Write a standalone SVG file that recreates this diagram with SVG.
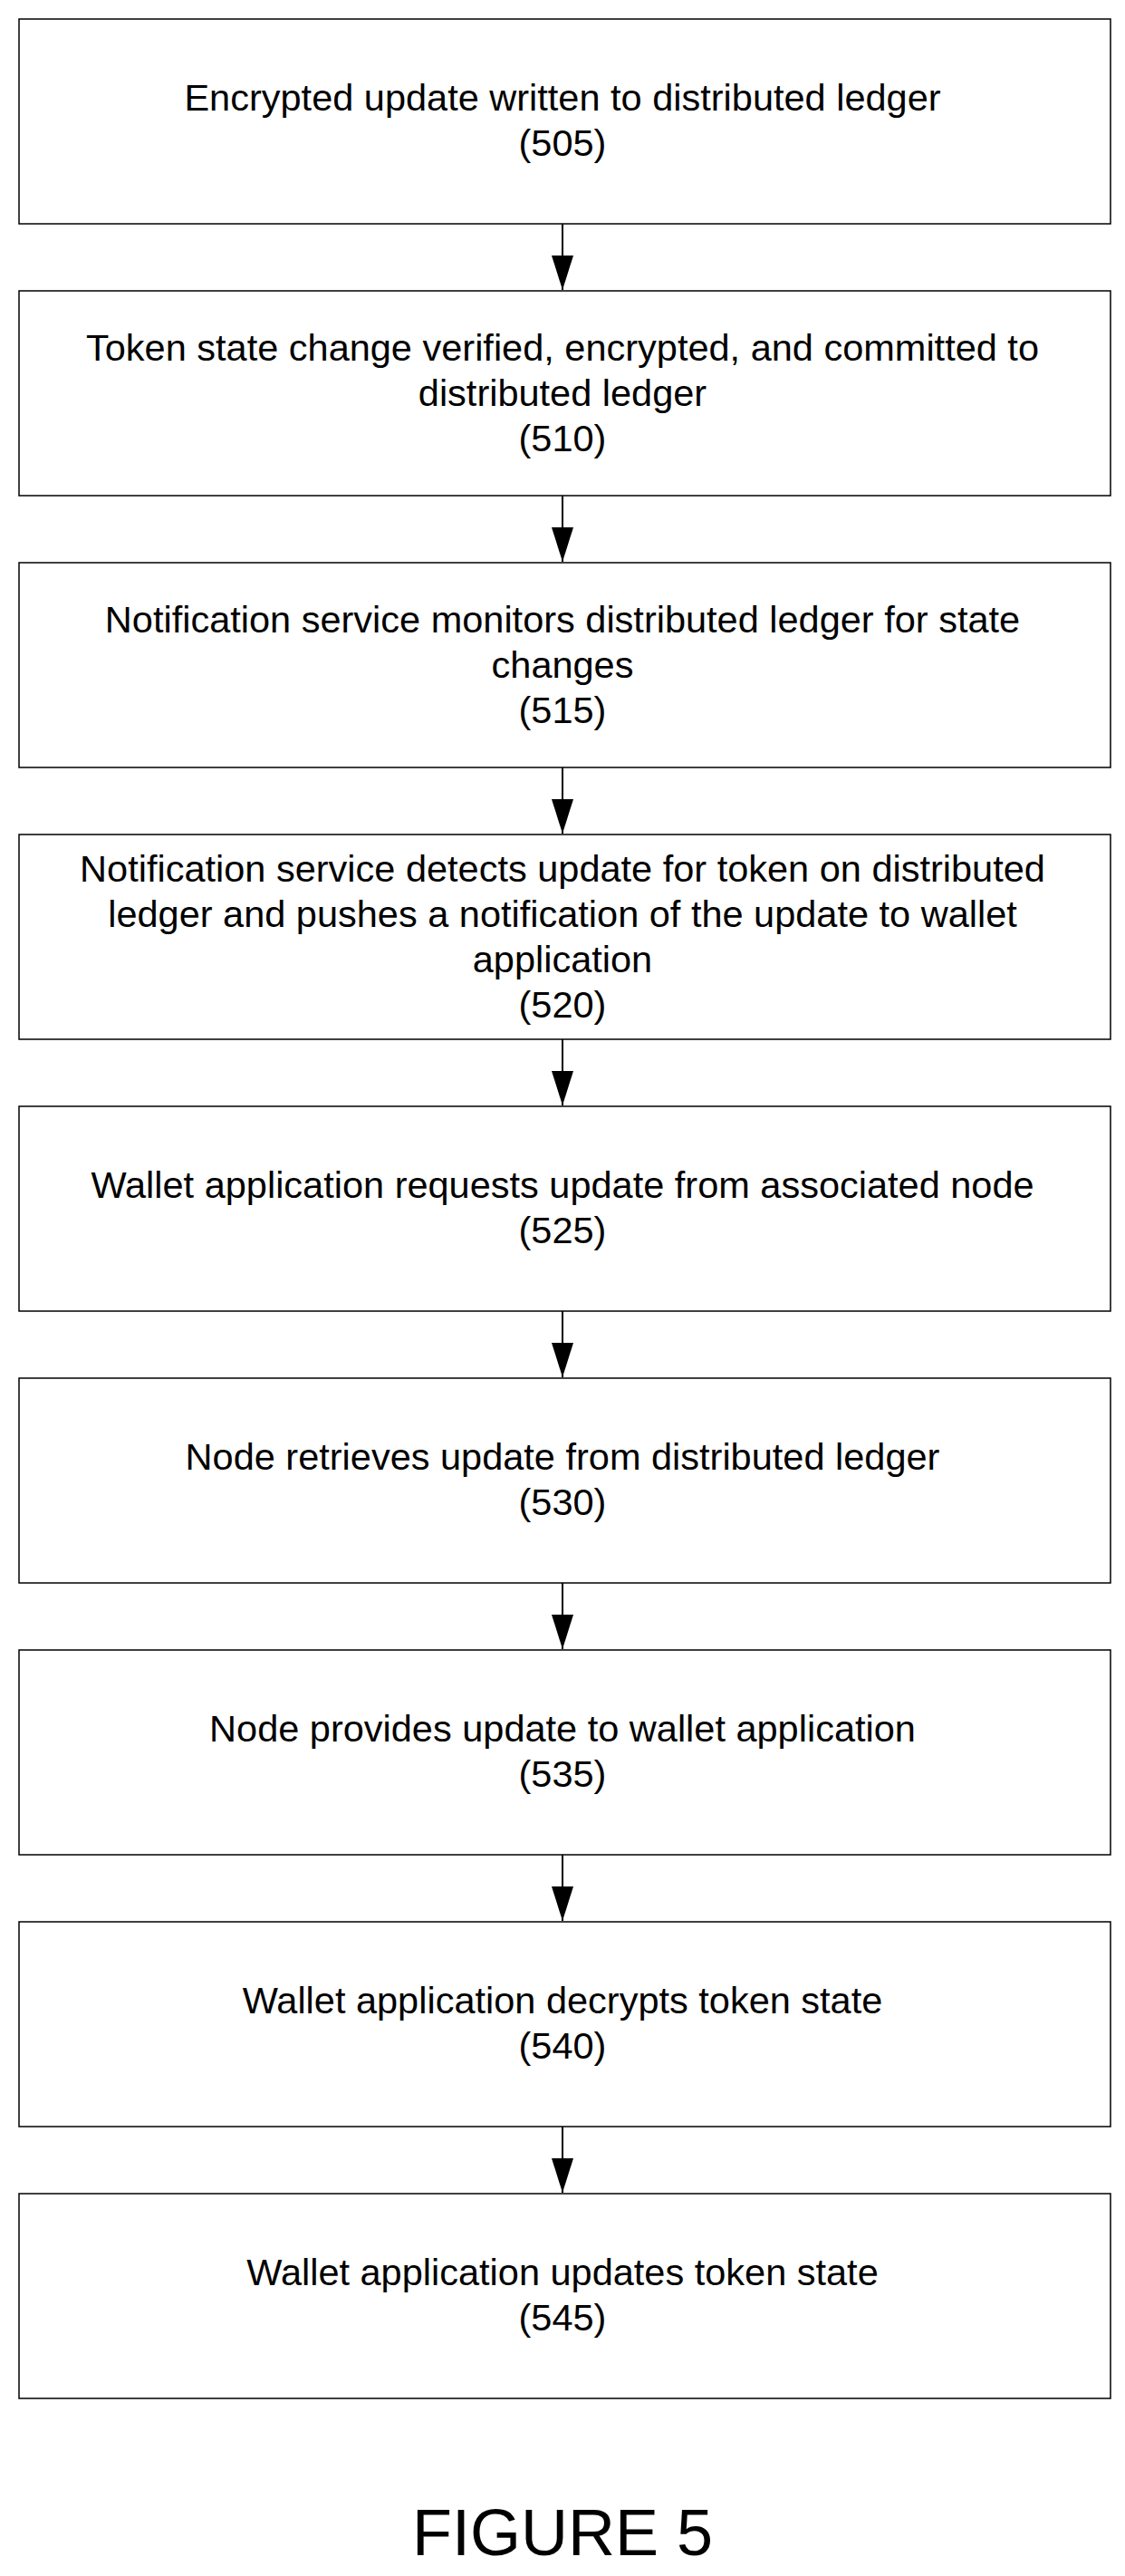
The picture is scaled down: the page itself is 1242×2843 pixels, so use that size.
<svg xmlns="http://www.w3.org/2000/svg" width="1242" height="2843" viewBox="0 0 1242 2843">
<style>
rect{fill:#fff;stroke:#000;stroke-width:1.5}
text{font-family:"Liberation Sans",Arial,sans-serif;font-size:41.5px;text-anchor:middle;fill:#000}
.c{stroke:#000;stroke-width:2;fill:none}
</style>
<defs><marker id="b" markerWidth="38" markerHeight="24" refX="38" refY="12" orient="auto" markerUnits="userSpaceOnUse"><path d="M0,0 L38,12 L0,24 Z" fill="#000"/></marker></defs>
<rect width="1242" height="2843" style="stroke:none"/>
<g id="connectors">
<line class="c" x1="621" y1="247" x2="621" y2="320" marker-end="url(#b)"/>
<line class="c" x1="621" y1="547" x2="621" y2="620" marker-end="url(#b)"/>
<line class="c" x1="621" y1="847" x2="621" y2="920" marker-end="url(#b)"/>
<line class="c" x1="621" y1="1147" x2="621" y2="1220" marker-end="url(#b)"/>
<line class="c" x1="621" y1="1447" x2="621" y2="1520" marker-end="url(#b)"/>
<line class="c" x1="621" y1="1747" x2="621" y2="1820" marker-end="url(#b)"/>
<line class="c" x1="621" y1="2047" x2="621" y2="2120" marker-end="url(#b)"/>
<line class="c" x1="621" y1="2347" x2="621" y2="2420" marker-end="url(#b)"/>
</g>
<g id="n505"><rect x="21" y="21" width="1205" height="226"/><text x="621" y="122">Encrypted update written to distributed ledger</text><text x="621" y="172">(505)</text></g>
<g id="n510"><rect x="21" y="321" width="1205" height="226"/><text x="621" y="398">Token state change verified, encrypted, and committed to</text><text x="621" y="448">distributed ledger</text><text x="621" y="498">(510)</text></g>
<g id="n515"><rect x="21" y="621" width="1205" height="226"/><text x="621" y="698">Notification service monitors distributed ledger for state</text><text x="621" y="748">changes</text><text x="621" y="798">(515)</text></g>
<g id="n520"><rect x="21" y="921" width="1205" height="226"/><text x="621" y="973">Notification service detects update for token on distributed</text><text x="621" y="1023">ledger and pushes a notification of the update to wallet</text><text x="621" y="1073">application</text><text x="621" y="1123">(520)</text></g>
<g id="n525"><rect x="21" y="1221" width="1205" height="226"/><text x="621" y="1322">Wallet application requests update from associated node</text><text x="621" y="1372">(525)</text></g>
<g id="n530"><rect x="21" y="1521" width="1205" height="226"/><text x="621" y="1622">Node retrieves update from distributed ledger</text><text x="621" y="1672">(530)</text></g>
<g id="n535"><rect x="21" y="1821" width="1205" height="226"/><text x="621" y="1922">Node provides update to wallet application</text><text x="621" y="1972">(535)</text></g>
<g id="n540"><rect x="21" y="2121" width="1205" height="226"/><text x="621" y="2222">Wallet application decrypts token state</text><text x="621" y="2272">(540)</text></g>
<g id="n545"><rect x="21" y="2421" width="1205" height="226"/><text x="621" y="2522">Wallet application updates token state</text><text x="621" y="2572">(545)</text></g>
<text x="621" y="2820" style="font-size:72px">FIGURE 5</text>
</svg>
